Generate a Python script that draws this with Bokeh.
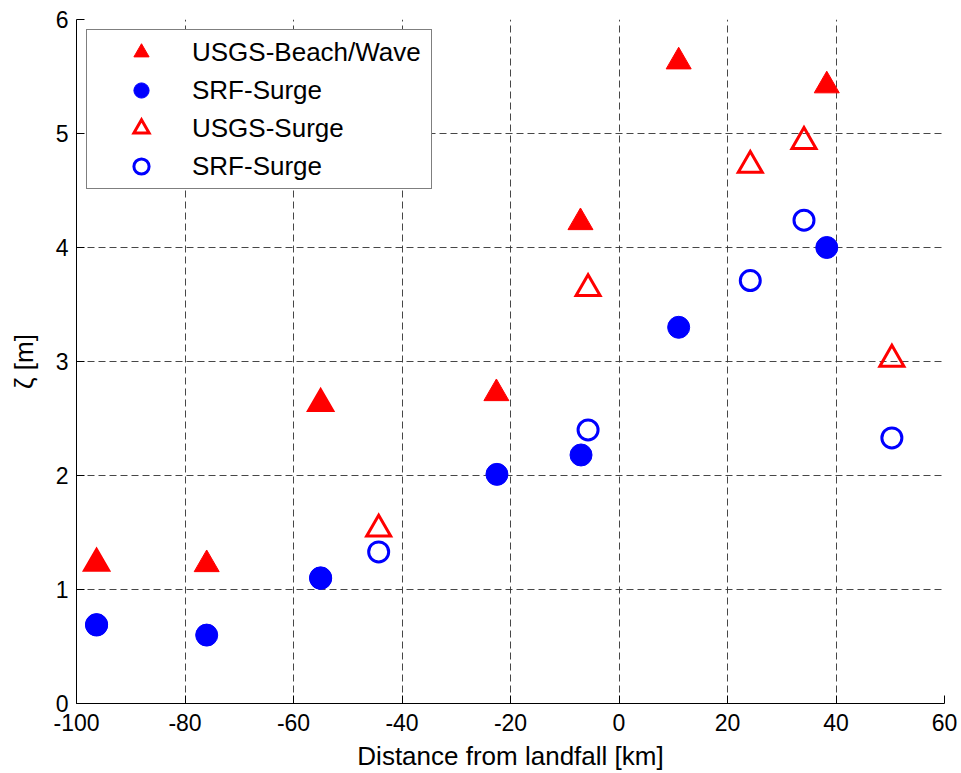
from bokeh.plotting import figure
from bokeh.models import Range1d, FixedTicker, Legend, LegendItem
from bokeh.embed import file_html
from bokeh.resources import INLINE

# USGS-Beach/Wave (filled red triangles)
beach_x = [-96.3, -76.0, -55.0, -22.6, -7.1, 11.0, 38.3]
beach_y = [1.23, 1.22, 2.63, 2.72, 4.22, 5.63, 5.42]
# SRF-Surge (filled blue circles)
srf1_x = [-96.3, -76.0, -55.0, -22.5, -7.0, 11.0, 38.3]
srf1_y = [0.69, 0.60, 1.10, 2.01, 2.18, 3.30, 4.00]
# USGS-Surge (open red triangles)
usgs_x = [-96.3, -55.0, -44.3, -5.7, 24.2, 34.1, 50.3]
usgs_y = [1.23, 2.63, 1.53, 3.64, 4.72, 4.93, 3.02]
# SRF-Surge (open blue circles)
srf2_x = [-96.3, -55.0, -44.3, -5.7, 24.2, 34.1, 50.3]
srf2_y = [0.69, 1.10, 1.33, 2.40, 3.71, 4.24, 2.33]

x_ticks = [-100, -80, -60, -40, -20, 0, 20, 40, 60]
y_ticks = [0, 1, 2, 3, 4, 5, 6]
labels = ["USGS-Beach/Wave", "SRF-Surge", "USGS-Surge", "SRF-Surge"]

FONT = "Liberation Sans"

p = figure(width=961, height=773, output_backend="svg", toolbar_location=None,
           x_range=Range1d(x_ticks[0], x_ticks[-1]), y_range=Range1d(y_ticks[0], y_ticks[-1]),
           min_border_left=76, min_border_right=17, min_border_top=19, min_border_bottom=69)
p.outline_line_color = None
p.background_fill_color = "white"
p.border_fill_color = "white"

p.xaxis.ticker = FixedTicker(ticks=x_ticks)
p.yaxis.ticker = FixedTicker(ticks=y_ticks)
p.xaxis.major_label_overrides = {t: str(t) for t in x_ticks}
p.yaxis.major_label_overrides = {t: str(t) for t in y_ticks}
p.xaxis.axis_label = "Distance from landfall [km]"
p.yaxis.axis_label = "ζ [m]"
for ax in (p.xaxis[0], p.yaxis[0]):
    ax.axis_line_color = "black"
    ax.axis_line_width = 1
    ax.major_tick_line_color = "black"
    ax.major_tick_in = 8
    ax.major_tick_out = 0
    ax.minor_tick_line_color = None
    ax.major_label_text_font = FONT
    ax.major_label_text_font_size = "23px"
    ax.major_label_text_color = "black"
    ax.axis_label_text_font = FONT
    ax.axis_label_text_font_size = "26px"
    ax.axis_label_text_font_style = "normal"
    ax.axis_label_text_color = "black"
p.xaxis.major_label_standoff = 10
p.xaxis.axis_label_standoff = 7
p.yaxis.major_label_standoff = 8
p.yaxis.axis_label_standoff = 14

for g in (p.xgrid[0], p.ygrid[0]):
    g.grid_line_color = "#333333"
    g.grid_line_dash = "7 4"
    g.grid_line_width = 1
    g.grid_line_alpha = 0.9

r1 = p.scatter(beach_x, beach_y, marker="triangle", size=25, fill_color="#FF0000",
               line_color="#FF0000", line_width=1)
r2 = p.scatter(srf1_x, srf1_y, marker="circle", size=22, fill_color="#0000FF",
               line_color="#0000FF", line_width=1)
r3 = p.scatter(usgs_x, usgs_y, marker="triangle", size=24, fill_color=None,
               line_color="#FF0000", line_width=3, line_join="miter")
r4 = p.scatter(srf2_x, srf2_y, marker="circle", size=20, fill_color=None,
               line_color="#0000FF", line_width=3)

legend = Legend(items=[LegendItem(label=labels[0], renderers=[r1]),
                       LegendItem(label=labels[1], renderers=[r2]),
                       LegendItem(label=labels[2], renderers=[r3]),
                       LegendItem(label=labels[3], renderers=[r4])],
                location="top_left", margin=10, padding=3, spacing=0,
                glyph_width=102, glyph_height=38, label_height=38, label_width=236,
                label_standoff=0, label_text_font=FONT, label_text_font_size="26px",
                label_text_color="black", border_line_color="black", border_line_width=1,
                background_fill_color="white", background_fill_alpha=1.0)
p.add_layout(legend)

open("out.html", "w").write(file_html(p, INLINE))
